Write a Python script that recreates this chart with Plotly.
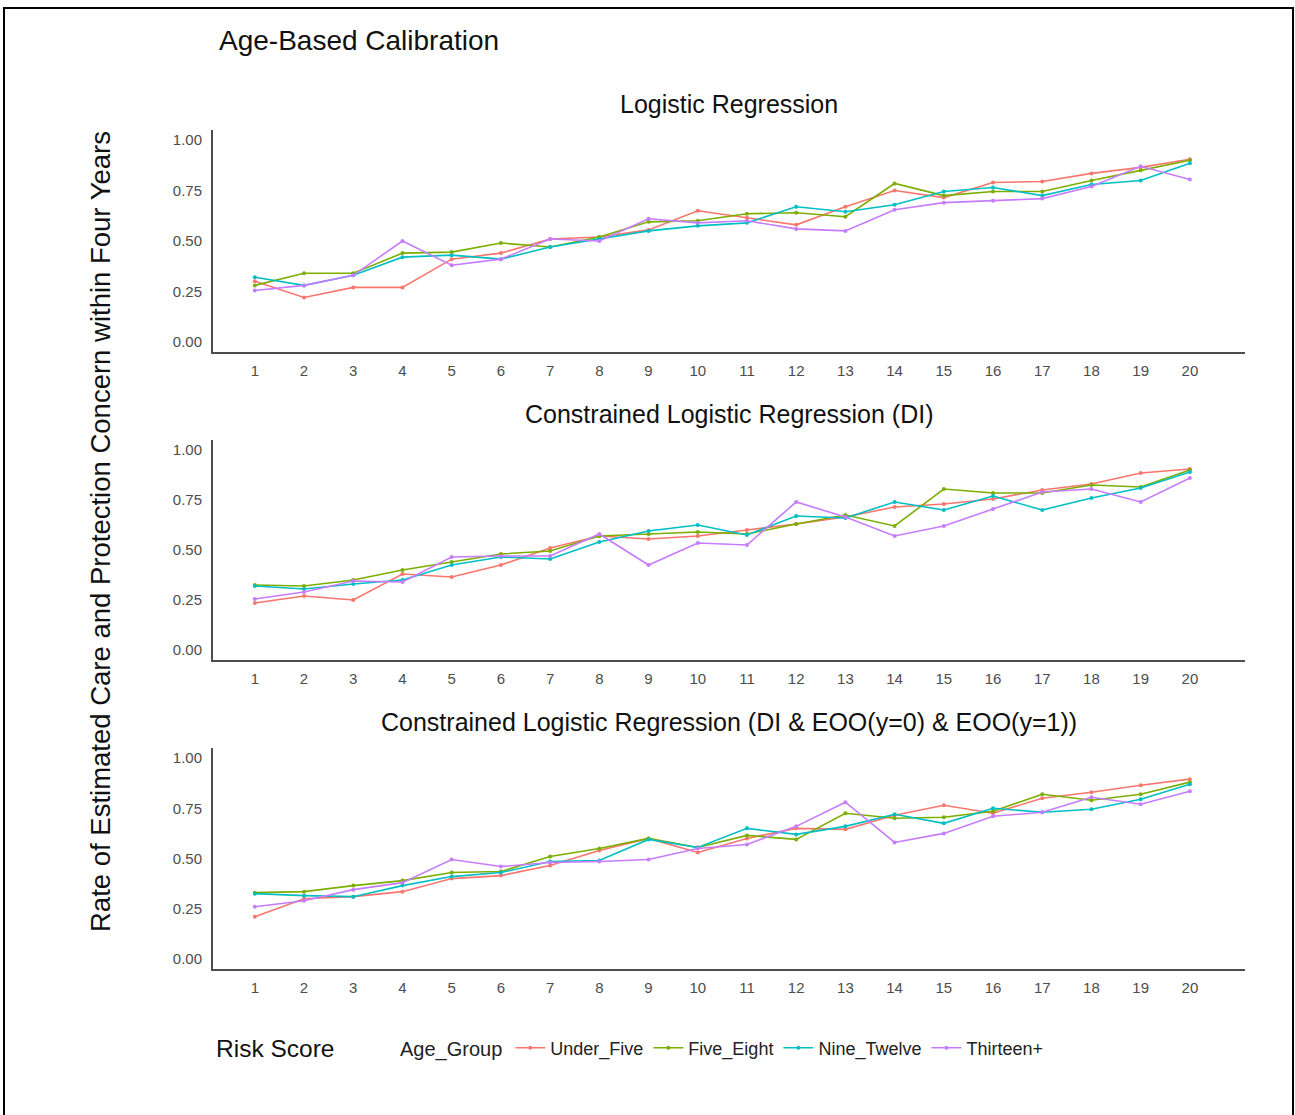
import plotly.graph_objects as go

# Risk score bins (x axis)
risk_score = list(range(1, 21))

age_groups = ["Under_Five", "Five_Eight", "Nine_Twelve", "Thirteen+"]
group_colors = ["#F8766D", "#7CAE00", "#00BFC4", "#C77CFF"]

panel_titles = [
    "Logistic Regression",
    "Constrained Logistic Regression (DI)",
    "Constrained Logistic Regression (DI & EOO(y=0) & EOO(y=1))",
]

# Logistic Regression
lr_under_five = [0.30, 0.22, 0.27, 0.27, 0.41, 0.44, 0.51, 0.52, 0.555, 0.65,
                 0.615, 0.58, 0.67, 0.75, 0.715, 0.79, 0.795, 0.835, 0.865, 0.905]
lr_five_eight = [0.28, 0.34, 0.34, 0.44, 0.445, 0.49, 0.47, 0.52, 0.595, 0.60,
                 0.635, 0.64, 0.62, 0.785, 0.725, 0.745, 0.745, 0.80, 0.85, 0.90]
lr_nine_twelve = [0.32, 0.28, 0.33, 0.42, 0.43, 0.41, 0.47, 0.51, 0.55, 0.575,
                  0.59, 0.67, 0.645, 0.68, 0.745, 0.765, 0.725, 0.78, 0.80, 0.885]
lr_thirteen = [0.255, 0.28, 0.33, 0.50, 0.38, 0.41, 0.51, 0.50, 0.61, 0.59,
               0.60, 0.56, 0.55, 0.655, 0.69, 0.70, 0.71, 0.77, 0.87, 0.805]

# Constrained Logistic Regression (DI)
di_under_five = [0.235, 0.27, 0.25, 0.38, 0.365, 0.425, 0.51, 0.57, 0.555, 0.57,
                 0.60, 0.63, 0.665, 0.715, 0.73, 0.755, 0.80, 0.83, 0.885, 0.905]
di_five_eight = [0.325, 0.32, 0.35, 0.40, 0.44, 0.48, 0.495, 0.57, 0.58, 0.59,
                 0.58, 0.63, 0.675, 0.62, 0.805, 0.785, 0.785, 0.825, 0.815, 0.90]
di_nine_twelve = [0.32, 0.305, 0.33, 0.35, 0.425, 0.465, 0.455, 0.54, 0.595, 0.625,
                  0.575, 0.67, 0.66, 0.74, 0.70, 0.77, 0.70, 0.76, 0.81, 0.89]
di_thirteen = [0.255, 0.29, 0.345, 0.34, 0.465, 0.47, 0.47, 0.58, 0.425, 0.535,
               0.525, 0.74, 0.665, 0.57, 0.62, 0.705, 0.79, 0.805, 0.74, 0.86]

# Constrained Logistic Regression (DI & EOO(y=0) & EOO(y=1))
eoo_under_five = [0.21, 0.30, 0.31, 0.335, 0.40, 0.415, 0.465, 0.54, 0.60, 0.53,
                  0.60, 0.65, 0.645, 0.715, 0.765, 0.725, 0.80, 0.83, 0.865, 0.895]
eoo_five_eight = [0.33, 0.335, 0.365, 0.39, 0.43, 0.435, 0.51, 0.55, 0.60, 0.555,
                  0.615, 0.595, 0.725, 0.70, 0.705, 0.735, 0.82, 0.79, 0.82, 0.88]
eoo_nine_twelve = [0.325, 0.315, 0.31, 0.365, 0.41, 0.43, 0.485, 0.49, 0.595, 0.555,
                   0.65, 0.62, 0.66, 0.72, 0.675, 0.75, 0.73, 0.745, 0.795, 0.87]
eoo_thirteen = [0.26, 0.29, 0.345, 0.38, 0.495, 0.46, 0.48, 0.485, 0.495, 0.55,
                0.57, 0.66, 0.78, 0.58, 0.625, 0.71, 0.73, 0.805, 0.77, 0.835]

panels = [
    [lr_under_five, lr_five_eight, lr_nine_twelve, lr_thirteen],
    [di_under_five, di_five_eight, di_nine_twelve, di_thirteen],
    [eoo_under_five, eoo_five_eight, eoo_nine_twelve, eoo_thirteen],
]

W, H = 1295, 1115
FONT = "Liberation Sans Narrow, Liberation Sans, Arial, sans-serif"

# plot-area geometry in pixels: (top, bottom)
x_left, x_right = 213, 1245
panel_px = [(130, 352), (440, 660), (748, 969)]

fig = go.Figure()

for p, series in enumerate(panels):
    suffix = "" if p == 0 else str(p + 1)
    for g, values in enumerate(series):
        fig.add_trace(go.Scatter(
            x=risk_score, y=values,
            mode="lines+markers",
            name=age_groups[g],
            legendgroup=age_groups[g],
            showlegend=(p == 0),
            line=dict(color=group_colors[g], width=1.6),
            marker=dict(color=group_colors[g], size=4, symbol="circle"),
            xaxis="x" + suffix, yaxis="y" + suffix,
        ))

axis_common = dict(
    showgrid=False, zeroline=False, showline=True,
    linecolor="#4d4d4d", linewidth=2, ticks="",
    tickfont=dict(family=FONT, size=15, color="#4d4d4d"),
)

layout = dict(
    width=W, height=H,
    margin=dict(l=0, r=0, t=0, b=0),
    paper_bgcolor="white", plot_bgcolor="white",
    showlegend=True,
    legend=dict(
        orientation="h", x=398 / W, y=1 - 1048 / H,
        xanchor="left", yanchor="middle",
        title=dict(text="Age_Group", font=dict(family=FONT, size=20, color="#222")),
        font=dict(family=FONT, size=18, color="#222"),
        itemwidth=30, tracegroupgap=0,
    ),
)

annotations = []
for p, (top, bot) in enumerate(panel_px):
    suffix = "" if p == 0 else str(p + 1)
    layout["xaxis" + suffix] = dict(
        axis_common,
        domain=[x_left / W, x_right / W],
        range=[0.15, 21.12],
        tickvals=risk_score,
        anchor="y" + suffix,
        ticklabelstandoff=4,
    )
    layout["yaxis" + suffix] = dict(
        axis_common,
        domain=[1 - bot / H, 1 - top / H],
        range=[-0.05, 1.05],
        tickvals=[0, 0.25, 0.5, 0.75, 1.0],
        ticktext=["0.00", "0.25", "0.50", "0.75", "1.00"],
        anchor="x" + suffix,
        ticklabelstandoff=6,
    )
    annotations.append(dict(
        text=panel_titles[p], xref="paper", yref="paper",
        x=(x_left + x_right) / 2 / W, y=1 - (top - 26) / H,
        xanchor="center", yanchor="middle", showarrow=False,
        font=dict(family=FONT, size=25, color="#111"),
    ))

annotations += [
    dict(text="Age-Based Calibration", xref="paper", yref="paper",
         x=217 / W, y=1 - 41 / H, xanchor="left", yanchor="middle",
         showarrow=False, font=dict(family=FONT, size=28, color="#111")),
    dict(text="Rate of Estimated Care and Protection Concern within Four Years",
         xref="paper", yref="paper", x=100 / W, y=1 - 532 / H,
         xanchor="center", yanchor="middle", textangle=-90,
         showarrow=False, font=dict(family=FONT, size=27.5, color="#111")),
    dict(text="Risk Score", xref="paper", yref="paper",
         x=214 / W, y=1 - 1048 / H, xanchor="left", yanchor="middle",
         showarrow=False, font=dict(family=FONT, size=24.5, color="#111")),
]
layout["annotations"] = annotations

# outer frame around the whole figure
layout["shapes"] = [dict(
    type="rect", xref="paper", yref="paper",
    x0=4 / W, x1=1293 / W, y0=-0.02, y1=1 - 8 / H,
    line=dict(color="black", width=2), fillcolor="rgba(0,0,0,0)",
)]

fig.update_layout(**layout)
fig.write_html("out.html")
